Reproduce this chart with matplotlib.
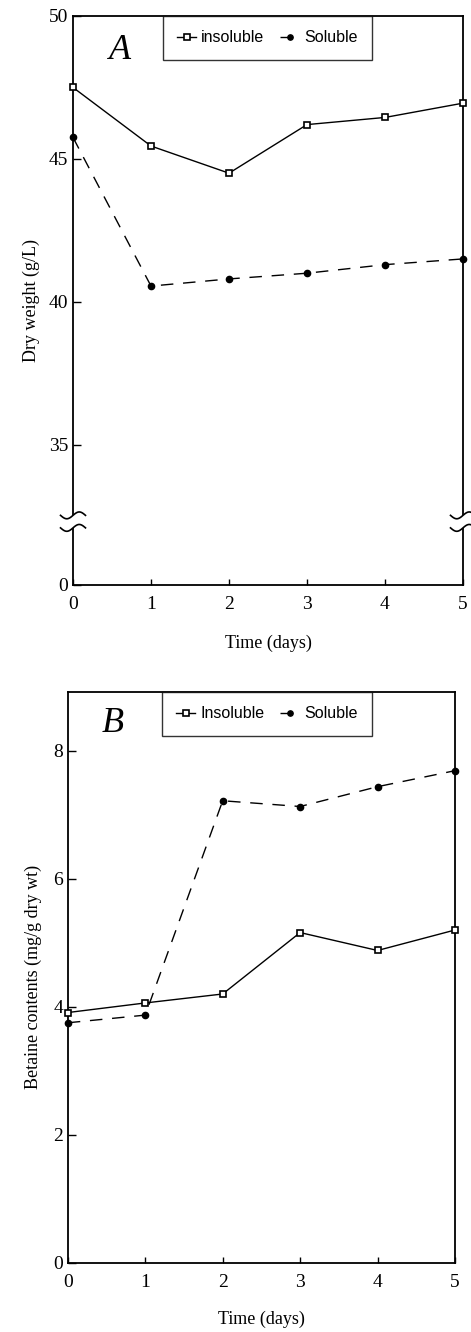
import numpy as np
import matplotlib
matplotlib.use('Agg')
import matplotlib.pyplot as plt

# Data
days = [0, 1, 2, 3, 4, 5]

dry_insoluble = [47.5, 45.45, 44.5, 46.2, 46.45, 46.95]
dry_soluble = [45.75, 40.55, 40.8, 41.0, 41.3, 41.5]

bet_insoluble = [3.91, 4.06, 4.2, 5.16, 4.88, 5.2]
bet_soluble = [3.75, 3.87, 7.22, 7.13, 7.44, 7.69]

dry_ticks = [0, 35, 40, 45, 50]
bet_ticks = [0, 2, 4, 6, 8]

plt.rcParams['font.family'] = ['Liberation Serif', 'DejaVu Serif']

SERIF = 'Liberation Serif'
SANS = 'Liberation Sans'


# broken y scale for panel A: 0..35 squeezed into a short strip
def fwd(v):
    v = np.asarray(v, dtype=float)
    return np.where(v >= 35, v, 30.1 + v * (4.9 / 35))


def inv(u):
    u = np.asarray(u, dtype=float)
    return np.where(u >= 35, u, (u - 30.1) * 35 / 4.9)


def style_axes(ax):
    for sp in ax.spines.values():
        sp.set_linewidth(1.3)
        sp.set_color('black')
    ax.tick_params(direction='in', length=6, width=1, labelsize=14,
                   top=False, right=False)
    ax.tick_params(axis='x', length=4, pad=8)
    for lab in ax.get_xticklabels() + ax.get_yticklabels():
        lab.set_family(SERIF)


def draw_lines(ax, x, ins, sol):
    ax.plot(x, ins, color='black', linewidth=1.0, linestyle='-',
            marker='s', markersize=5, markerfacecolor='white',
            markeredgewidth=1.2, clip_on=False, zorder=3)
    ax.plot(x, sol, color='black', linewidth=1.0, linestyle=(0, (9, 7)),
            marker='o', markersize=4.5, markerfacecolor='black',
            clip_on=False, zorder=3)


def add_legend(ax, x0, labels):
    handles = ax.get_lines()[:2]
    leg = ax.legend(handles, labels, loc='upper left', bbox_to_anchor=(x0, 1.0),
                    ncol=2, frameon=True, fancybox=False, borderaxespad=0,
                    handlelength=1.2, handletextpad=0.3, columnspacing=1.0,
                    borderpad=0.9, markerscale=0.85,
                    prop={'family': SANS, 'size': 11.5})
    leg.get_frame().set_edgecolor('black')
    leg.get_frame().set_linewidth(1.0)


def break_mark(ax, yfrac):
    t = np.linspace(-1, 1, 40)
    for xs in (0, 1):
        ax.add_patch(plt.Rectangle((xs - 0.02, yfrac - 0.011), 0.04, 0.022,
                                   transform=ax.transAxes, facecolor='white',
                                   edgecolor='none', clip_on=False, zorder=4))
        for dy in (0.011, -0.011):
            ax.plot(xs + t * 0.032, yfrac + dy + 0.006 * np.sin(t * np.pi),
                    transform=ax.transAxes, color='black', linewidth=1.2,
                    clip_on=False, zorder=5)


fig = plt.figure(figsize=(4.71, 13.32), dpi=100)

# Panel A
axA = fig.add_axes([0.155, 0.561, 0.828, 0.427])
axA.set_yscale('function', functions=(fwd, inv))
draw_lines(axA, days, dry_insoluble, dry_soluble)
axA.set_xlim(0, 5)
axA.set_ylim(0, 50)
axA.set_yticks(dry_ticks)
axA.set_yticklabels([str(t) for t in dry_ticks])
axA.set_xticks(days)
axA.minorticks_off()
style_axes(axA)
axA.set_xlabel('Time (days)', family=SERIF, fontsize=13, labelpad=16)
axA.set_ylabel('Dry weight (g/L)', family=SERIF, fontsize=13, labelpad=6)
add_legend(axA, 0.23, ['insoluble', 'Soluble'])
axA.text(0.12, 0.94, 'A', transform=axA.transAxes, family=SERIF,
         style='italic', fontsize=26, va='center', ha='center')
break_mark(axA, 0.111)

# Panel B
axB = fig.add_axes([0.144, 0.052, 0.822, 0.4285])
draw_lines(axB, days, bet_insoluble, bet_soluble)
axB.set_xlim(0, 5)
axB.set_ylim(0, 8.92)
axB.set_yticks(bet_ticks)
axB.set_xticks(days)
style_axes(axB)
axB.set_xlabel('Time (days)', family=SERIF, fontsize=13, labelpad=14)
axB.set_ylabel('Betaine contents (mg/g dry wt)', family=SERIF, fontsize=13,
               labelpad=8)
add_legend(axB, 0.243, ['Insoluble', 'Soluble'])
axB.text(0.115, 0.945, 'B', transform=axB.transAxes, family=SERIF,
         style='italic', fontsize=26, va='center', ha='center')

fig.savefig('out.png', dpi=100)
